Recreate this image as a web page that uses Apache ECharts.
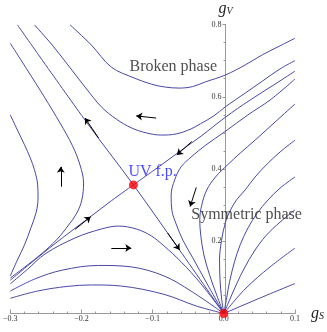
<!DOCTYPE html>
<html><head><meta charset="utf-8">
<script src="https://cdn.jsdelivr.net/npm/echarts@6/dist/echarts.min.js"></script>
<style>html,body{margin:0;padding:0;background:#fff}#c{width:327px;height:332px}</style>
</head><body><div id="c"></div>
<script>
// axis ticks
const xTicks = [-0.3, -0.2, -0.1, 0.0, 0.1];
const yTicks = [0.2, 0.4, 0.6, 0.8];

// Broken-phase flow lines
const curveA = [[-0.216,0.799],[-0.186,0.743],[-0.158,0.682],[-0.126,0.652],[-0.102,0.635],[-0.083,0.627],[-0.063,0.624],[-0.044,0.628],[-0.026,0.641],[0.002,0.660],[0.030,0.688],[0.054,0.716],[0.079,0.741],[0.1,0.762]];
const curveB = [[-0.266,0.799],[-0.241,0.743],[-0.219,0.688],[-0.195,0.627],[-0.172,0.572],[-0.151,0.538],[-0.130,0.514],[-0.109,0.500],[-0.088,0.494],[-0.067,0.497],[-0.046,0.511],[-0.033,0.525],[-0.014,0.547],[0.002,0.572],[0.030,0.610],[0.054,0.643],[0.079,0.677],[0.1,0.700]];
// separatrices through the UV fixed point
const sepMain = [[-0.290,0.799],[-0.193,0.530],[-0.127,0.356],[-0.063,0.178],[0,0]];
const sepUpper = [[-0.127,0.356],[-0.088,0.411],[-0.063,0.447],[-0.032,0.491],[0.002,0.543],[0.037,0.591],[0.072,0.635],[0.1,0.671]];
const sepLower = [[-0.127,0.356],[-0.158,0.312],[-0.190,0.264],[-0.227,0.209],[-0.262,0.154],[-0.3,0.092]];
// left-side flow lines
const curveG = [[-0.3,0.550],[-0.290,0.508],[-0.280,0.467],[-0.272,0.431],[-0.266,0.398],[-0.2615,0.356],[-0.261,0.320],[-0.2635,0.281],[-0.271,0.237],[-0.280,0.190],[-0.290,0.148],[-0.3,0.104]];
const curveD = [[-0.3,0.748],[-0.276,0.674],[-0.252,0.599],[-0.230,0.527],[-0.213,0.466],[-0.202,0.411],[-0.197,0.361],[-0.1995,0.314],[-0.2065,0.278],[-0.218,0.245],[-0.234,0.206],[-0.255,0.167],[-0.276,0.134],[-0.3,0.098]];
// lower humps ending at the origin
const humpH1 = [[-0.3,0.082],[-0.276,0.122],[-0.251,0.165],[-0.209,0.209],[-0.172,0.234],[-0.148,0.242],[-0.123,0.234],[-0.102,0.215],[-0.084,0.187],[-0.060,0.143],[-0.032,0.082],[0,0]];
const humpH2 = [[-0.3,0.062],[-0.265,0.096],[-0.227,0.120],[-0.176,0.133],[-0.130,0.129],[-0.084,0.104],[-0.046,0.062],[0,0]];
const humpH3 = [[-0.3,0.042],[-0.262,0.062],[-0.220,0.075],[-0.186,0.079],[-0.144,0.076],[-0.084,0.053],[-0.039,0.021],[0,0]];
// symmetric-phase flow lines ending at the origin
const curveU1 = [[0.1,0.649],[0.065,0.591],[0.034,0.550],[0.002,0.504],[-0.0255,0.466],[-0.046,0.433],[-0.060,0.406],[-0.069,0.370],[-0.074,0.328],[-0.073,0.286],[-0.067,0.248],[-0.0575,0.203],[-0.0436,0.154],[-0.024,0.084],[0,0]];
const curveU2 = [[0.1,0.580],[0.072,0.530],[0.044,0.480],[0.023,0.444],[0.005,0.411],[-0.0116,0.378],[-0.024,0.342],[-0.031,0.300],[-0.0338,0.259],[-0.0324,0.217],[-0.028,0.162],[-0.020,0.107],[-0.010,0.051],[0,0]];
const curveU3 = [[0.1,0.480],[0.079,0.447],[0.061,0.414],[0.044,0.378],[0.030,0.342],[0.0177,0.314],[0.008,0.281],[0.0024,0.253],[-0.0032,0.203],[-0.006,0.148],[-0.0053,0.093],[-0.0032,0.043],[0,0]];
const curveU4 = [[0.1,0.378],[0.079,0.347],[0.062,0.314],[0.047,0.278],[0.034,0.237],[0.023,0.190],[0.015,0.143],[0.008,0.087],[0.004,0.043],[0,0]];
const curveU5 = [[0.1,0.287],[0.079,0.253],[0.059,0.215],[0.043,0.173],[0.029,0.126],[0.018,0.082],[0.008,0.037],[0,0]];
const curveU6 = [[0.1,0.181],[0.065,0.129],[0.030,0.068],[0,0]];
const curveU7 = [[0.1,0.083],[0.051,0.043],[0,0]];

// flow arrows: [tail, head]
const arrows = [
  [[-0.176,0.486],[-0.195,0.541]],
  [[-0.095,0.541],[-0.123,0.547]],
  [[-0.045,0.476],[-0.066,0.439]],
  [[-0.229,0.351],[-0.229,0.406]],
  [[-0.209,0.233],[-0.187,0.268]],
  [[-0.158,0.181],[-0.130,0.181]],
  [[-0.079,0.223],[-0.062,0.176]],
  [[-0.0387,0.349],[-0.0473,0.296]]
];

// fixed points
const fixedPoints = [[-0.127,0.356],[0,0]];

// annotations
const annTexts = ['Broken phase','Symmetric phase','UV f.p.'];
const annAt = [[-0.071,0.682],[0.032,0.273],[-0.100,0.392]];
const annColors = ['#222','#222','#1a1aff'];

const lineColor = '#4848a4';
const curves = [curveA,curveB,sepMain,sepUpper,sepLower,curveG,curveD,humpH1,humpH2,humpH3,curveU1,curveU2,curveU3,curveU4,curveU5,curveU6,curveU7];

const serif = '"Liberation Serif","DejaVu Serif",serif';
const series = curves.map(c => ({
  type:'line', data:c, showSymbol:false, smooth:0.35, silent:true,
  lineStyle:{color:lineColor,width:1}, z:2
}));
series.push({
  type:'lines', coordinateSystem:'cartesian2d', silent:true, z:3,
  symbol:['none','arrow'], symbolSize:6,
  lineStyle:{color:'#000',width:1,opacity:1,curveness:0},
  data: arrows.map(a => ({coords:a}))
});
series.push({
  type:'scatter', data:fixedPoints, symbolSize:9, clip:false, z:5,
  itemStyle:{color:'#ff0000'}, silent:true
});
series.push({
  type:'scatter', symbolSize:0, silent:true, z:4, clip:false,
  data: annTexts.map((t,i)=>({value:annAt[i], label:{show:true, position:'inside', formatter:t, color:annColors[i], fontSize:16, fontFamily:serif}}))
});

const gridLeft = 8, gridRight = 32;
const plotW = 327 - gridLeft - gridRight;
const xMin = xTicks[0], xMax = xTicks[xTicks.length-1];
// place y axis on x = 0
const yAxisOffset = -plotW * (0 - xMin) / (xMax - xMin);

const chart = echarts.init(document.getElementById('c'), null, {renderer:'canvas'});
chart.setOption({
  animation:false,
  backgroundColor:'#fff',
  grid:{left:gridLeft, right:gridRight, top:24.5, bottom:18.5, containLabel:false},
  xAxis:{
    type:'value', min:xMin, max:xMax, interval:0.1,
    axisLine:{onZero:false, lineStyle:{color:'#999',width:1}},
    axisTick:{inside:true, length:4, lineStyle:{color:'#999'}},
    minorTick:{show:true, splitNumber:5, length:2, lineStyle:{color:'#999'}},
    splitLine:{show:false},
    axisLabel:{margin:1, fontSize:8, color:'#333', fontFamily:serif,
      formatter:v => (v < -1e-9 ? '\u2212' : '') + Math.abs(v).toFixed(1)},
    name:'{a|g}{b|S}', nameLocation:'end', nameGap:16,
    nameTextStyle:{rich:{a:{fontSize:16, fontStyle:'italic', fontFamily:serif, color:'#222'},
                         b:{fontSize:10, fontStyle:'italic', fontFamily:serif, color:'#222', verticalAlign:'bottom', padding:[6,0,0,0]}}}
  },
  yAxis:{
    type:'value', min:0, max:yTicks[yTicks.length-1], interval:0.2,
    offset:yAxisOffset,
    axisLine:{onZero:false, lineStyle:{color:'#999',width:1}},
    axisTick:{inside:false, length:3, lineStyle:{color:'#999'}},
    minorTick:{show:true, splitNumber:4, length:2, lineStyle:{color:'#999'}},
    splitLine:{show:false},
    axisLabel:{margin:4, fontSize:8, color:'#333', fontFamily:serif,
      formatter:v => (Math.abs(v) < 1e-9 ? '' : v.toFixed(1))},
    name:'{a|g}{b|V}', nameLocation:'end', nameGap:8,
    nameTextStyle:{rich:{a:{fontSize:16, fontStyle:'italic', fontFamily:serif, color:'#222'},
                         b:{fontSize:10, fontStyle:'italic', fontFamily:serif, color:'#222', verticalAlign:'bottom', padding:[6,0,0,0]}}}
  },
  series:series
});
</script>
</body></html>
